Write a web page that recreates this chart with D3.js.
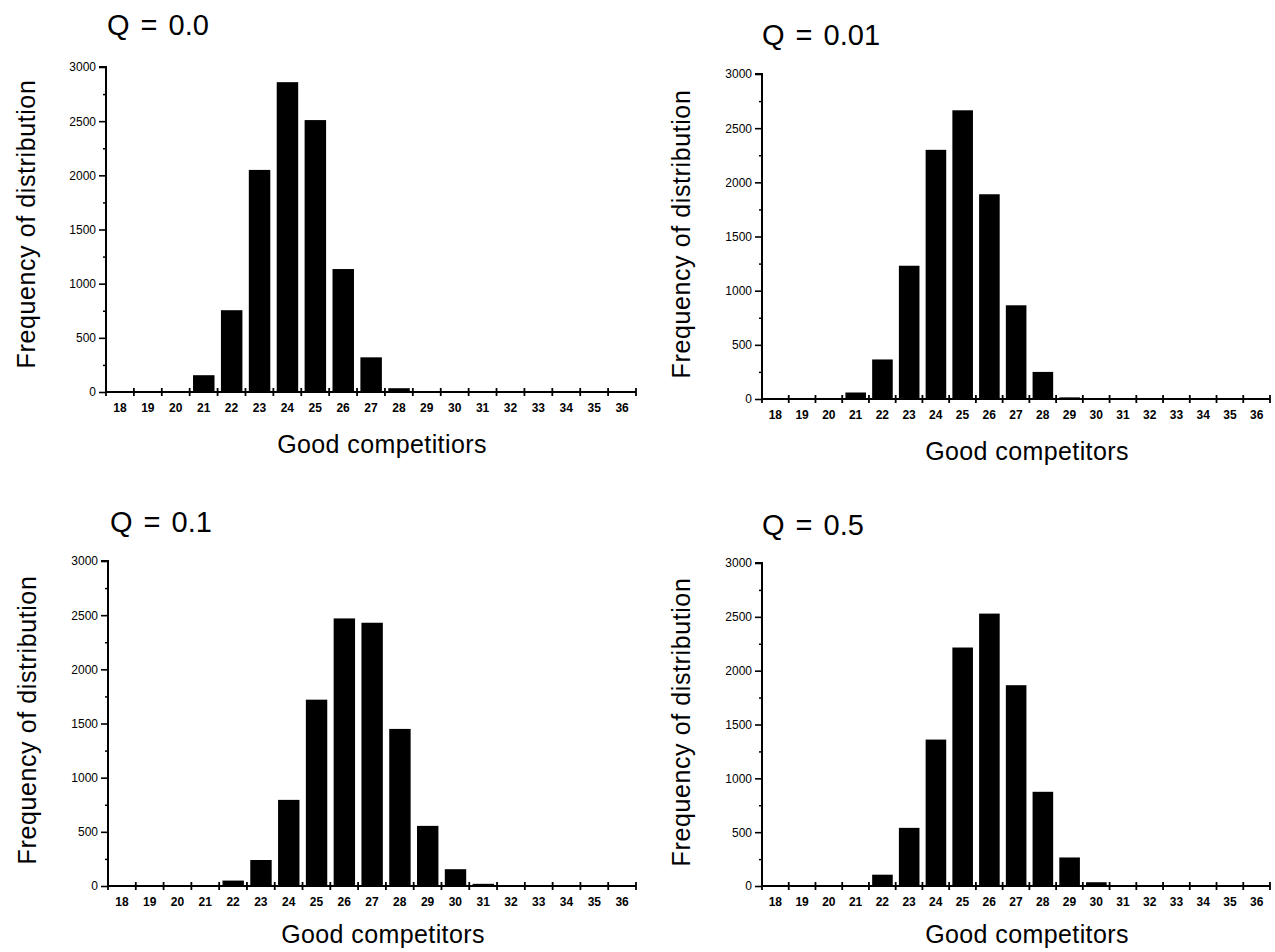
<!DOCTYPE html>
<html>
<head>
<meta charset="utf-8">
<script src="https://cdn.jsdelivr.net/npm/d3@7"></script>
<style>
  body { margin: 0; background: #fff; }
  text { font-family: "Liberation Sans", Arial, Helvetica, sans-serif; fill: #000; }
</style>
</head>
<body>
<div id="chart"></div>
<script>

// Data
// ==============================
var competitors = [18, 19, 20, 21, 22, 23, 24, 25, 26, 27, 28, 29, 30, 31, 32, 33, 34, 35, 36];

var freqQ00  = [0, 0, 0, 155, 755, 2050, 2860, 2510, 1135, 320, 35, 5, 0, 0, 0, 0, 0, 0, 0];
var freqQ001 = [0, 0, 0, 60, 365, 1230, 2300, 2665, 1890, 865, 250, 15, 0, 0, 0, 0, 0, 0, 0];
var freqQ01  = [0, 0, 0, 0, 50, 240, 795, 1720, 2470, 2430, 1450, 555, 155, 20, 0, 0, 0, 0, 0];
var freqQ05  = [0, 0, 0, 0, 105, 540, 1360, 2215, 2530, 1865, 875, 265, 35, 0, 0, 0, 0, 0, 0];

var freqTicks = [0, 500, 1000, 1500, 2000, 2500, 3000];
var minorTicks = [250, 750, 1250, 1750, 2250, 2750];

var qLabels = ["Q = 0.0", "Q = 0.01", "Q = 0.1", "Q = 0.5"];
var xTitles = ["Good competitiors", "Good competitors", "Good competitors", "Good competitors"];
var yTitle = "Frequency of distribution";

var svgWidth = 1275;
var svgHeight = 952;

var svg = d3.select("#chart")
  .append("svg")
  .attr("width", svgWidth)
  .attr("height", svgHeight);

// panel placement (pixels)
var panels = [
  { values: freqQ00,  left: 106, right: 636,  zero: 392, top: 67,  titleX: 107, titleY: 35,  xTitleY: 453, yTitleX: 35,  yTitleY: 224 },
  { values: freqQ001, left: 762, right: 1270, zero: 399, top: 74,  titleX: 762, titleY: 45,  xTitleY: 460, yTitleX: 690, yTitleY: 234 },
  { values: freqQ01,  left: 108, right: 636,  zero: 886, top: 561, titleX: 110, titleY: 532, xTitleY: 943, yTitleX: 36,  yTitleY: 720 },
  { values: freqQ05,  left: 762, right: 1270, zero: 886, top: 563, titleX: 762, titleY: 535, xTitleY: 943, yTitleX: 690, yTitleY: 722 }
];

panels.forEach(function(p, i) {

  var g = svg.append("g");

  // Scales
  // ==============================
  var xBand = d3.scaleBand()
    .domain(competitors)
    .range([p.left, p.right])
    .padding(0);

  var yLinear = d3.scaleLinear()
    .domain([0, 3000])
    .range([p.zero, p.top]);

  var bw = xBand.bandwidth();

  // Bars
  // ==============================
  g.selectAll("rect")
    .data(competitors.map(function(c, k) { return { c: c, v: p.values[k] }; }).filter(d => d.v > 0))
    .enter()
    .append("rect")
    .attr("x", d => xBand(d.c) + bw * 0.12)
    .attr("width", bw * 0.77)
    .attr("y", d => yLinear(d.v))
    .attr("height", d => p.zero - yLinear(d.v))
    .attr("fill", "#000");

  // Y axis with minor ticks
  // ==============================
  var leftAxis = d3.axisLeft(yLinear)
    .tickValues(freqTicks)
    .tickSize(7)
    .tickPadding(3)
    .tickFormat(d3.format("d"));

  var yAxisG = g.append("g")
    .attr("transform", `translate(${p.left}, 0)`)
    .call(leftAxis);

  yAxisG.select(".domain").attr("d", `M-7,${p.top}H0V${p.zero}`).attr("stroke-width", 2);
  yAxisG.selectAll(".tick line").attr("stroke-width", 1.6);
  yAxisG.selectAll(".tick text")
    .attr("font-size", "12px")
    .attr("font-family", "Liberation Sans, Arial, sans-serif");

  g.append("g")
    .attr("transform", `translate(${p.left}, 0)`)
    .call(d3.axisLeft(yLinear).tickValues(minorTicks).tickSize(3).tickFormat(""))
    .call(a => a.select(".domain").remove())
    .selectAll(".tick line").attr("stroke-width", 1.5);

  // X axis: labels in the middle of each band, marks on band edges
  // ==============================
  var bottomAxis = d3.axisBottom(xBand)
    .tickSize(0)
    .tickPadding(11);

  var xAxisG = g.append("g")
    .attr("transform", `translate(0, ${p.zero})`)
    .call(bottomAxis);

  xAxisG.select(".domain").attr("d", `M${p.left},0H${p.right}`).attr("stroke-width", 2);
  xAxisG.selectAll(".tick text")
    .attr("font-size", "12px")
    .attr("font-weight", "bold")
    .attr("font-family", "Liberation Sans, Arial, sans-serif");

  var edges = competitors.map(c => xBand(c)).concat([p.right]);
  g.selectAll("line.edge")
    .data(edges)
    .enter()
    .append("line")
    .attr("class", "edge")
    .attr("x1", d => d).attr("x2", d => d)
    .attr("y1", p.zero - 4).attr("y2", p.zero + 4)
    .attr("stroke", "#000")
    .attr("stroke-width", 1.8);

  // Titles
  // ==============================
  g.append("text")
    .attr("x", p.titleX)
    .attr("y", p.titleY)
    .attr("font-size", "29px")
    .attr("word-spacing", "3px")
    .text(qLabels[i]);

  g.append("text")
    .attr("x", (p.left + p.right) / 2 + 11)
    .attr("y", p.xTitleY)
    .attr("text-anchor", "middle")
    .attr("font-size", "25px")
    .attr("letter-spacing", "0.4px")
    .text(xTitles[i]);

  g.append("text")
    .attr("transform", `translate(${p.yTitleX}, ${p.yTitleY}) rotate(-90)`)
    .attr("text-anchor", "middle")
    .attr("font-size", "25px")
    .attr("letter-spacing", "0.6px")
    .text(yTitle);
});

</script>
</body>
</html>
